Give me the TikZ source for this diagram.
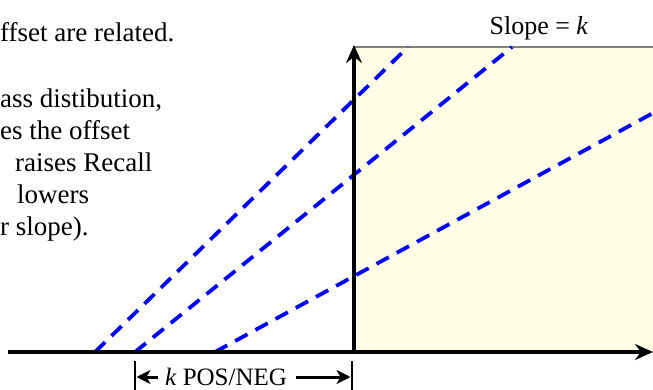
\documentclass[tikz,border=0pt]{standalone}
\usepackage{fontspec}
\setmainfont{Liberation Serif}
\usetikzlibrary{arrows.meta}
\definecolor{paleyellow}{RGB}{255,254,230}
\definecolor{edgegray}{RGB}{128,128,128}
\definecolor{dashblue}{RGB}{0,0,255}
\tikzset{
  axisline/.style={line width=3.2pt, black, -{Stealth[length=18pt,width=16pt,inset=6pt]}},
  offsetline/.style={line width=3.8pt, dashblue, dash pattern=on 14pt off 9pt},
  dimtick/.style={line width=2.6pt, black},
  dimarrow/.style={line width=3pt, black, -{Stealth[length=14pt,width=14pt,inset=4pt]}},
  bodytext/.style={anchor=base west, inner sep=0pt, font=\fontsize{27}{32}\selectfont},
  labeltext/.style={inner sep=0pt, font=\fontsize{25}{30}\selectfont}
}
\begin{document}
\begin{tikzpicture}[x=1pt,y=-1pt]
\useasboundingbox (0,0) rectangle (653,390);
% region
\fill[paleyellow] (354,47) rectangle (653,352);
\coordinate (tl) at (354,47);
\coordinate (tr) at (653,47);
\draw[edgegray, line width=1.8pt] (tl) -- (tr);
% offset lines
\coordinate (a0) at (95,352);  \coordinate (a1) at (408,47);
\coordinate (b0) at (135,352); \coordinate (b1) at (512,47);
\coordinate (c0) at (215,352); \coordinate (c1) at (653,113);
\draw[offsetline] (a0) -- (a1);
\draw[offsetline] (b0) -- (b1);
\draw[offsetline] (c0) -- (c1);
% axes
\coordinate (O) at (354,353.6);
\coordinate (ytop) at (354,45);
\coordinate (xleft) at (8,352);
\coordinate (xright) at (653,352);
\draw[axisline] (O) -- (ytop);
\draw[axisline] (xleft) -- (xright);
% dimension
\coordinate (t1a) at (135,361); \coordinate (t1b) at (135,390);
\coordinate (t2a) at (352,361); \coordinate (t2b) at (352,390);
\draw[dimtick] (t1a) -- (t1b);
\draw[dimtick] (t2a) -- (t2b);
\node[labeltext] (dim) at (226,377) {\textit{k} POS/NEG};
\coordinate (d1) at (136.5,377);
\coordinate (d2) at (350.5,377);
\draw[dimarrow] ([xshift=-7pt]dim.west |- d1) -- (d1);
\draw[dimarrow] ([xshift=9pt]dim.east |- d2) -- (d2);
% slope label
\node[inner sep=0pt, anchor=base, font=\fontsize{26}{32}\selectfont] (slope) at (539,35) {Slope = \textit{k}};
% left text
\node[bodytext] (l1) at (0,42) {ffset are related.};
\node[bodytext] (l2) at (0,108) {ass distibution,};
\node[bodytext] (l3) at (0,140) {es the offset};
\node[bodytext] (l4) at (15,172) {raises Recall};
\node[bodytext] (l5) at (17,204) {lowers};
\node[bodytext] (l6) at (0,236) {r slope).};
\end{tikzpicture}
\end{document}
